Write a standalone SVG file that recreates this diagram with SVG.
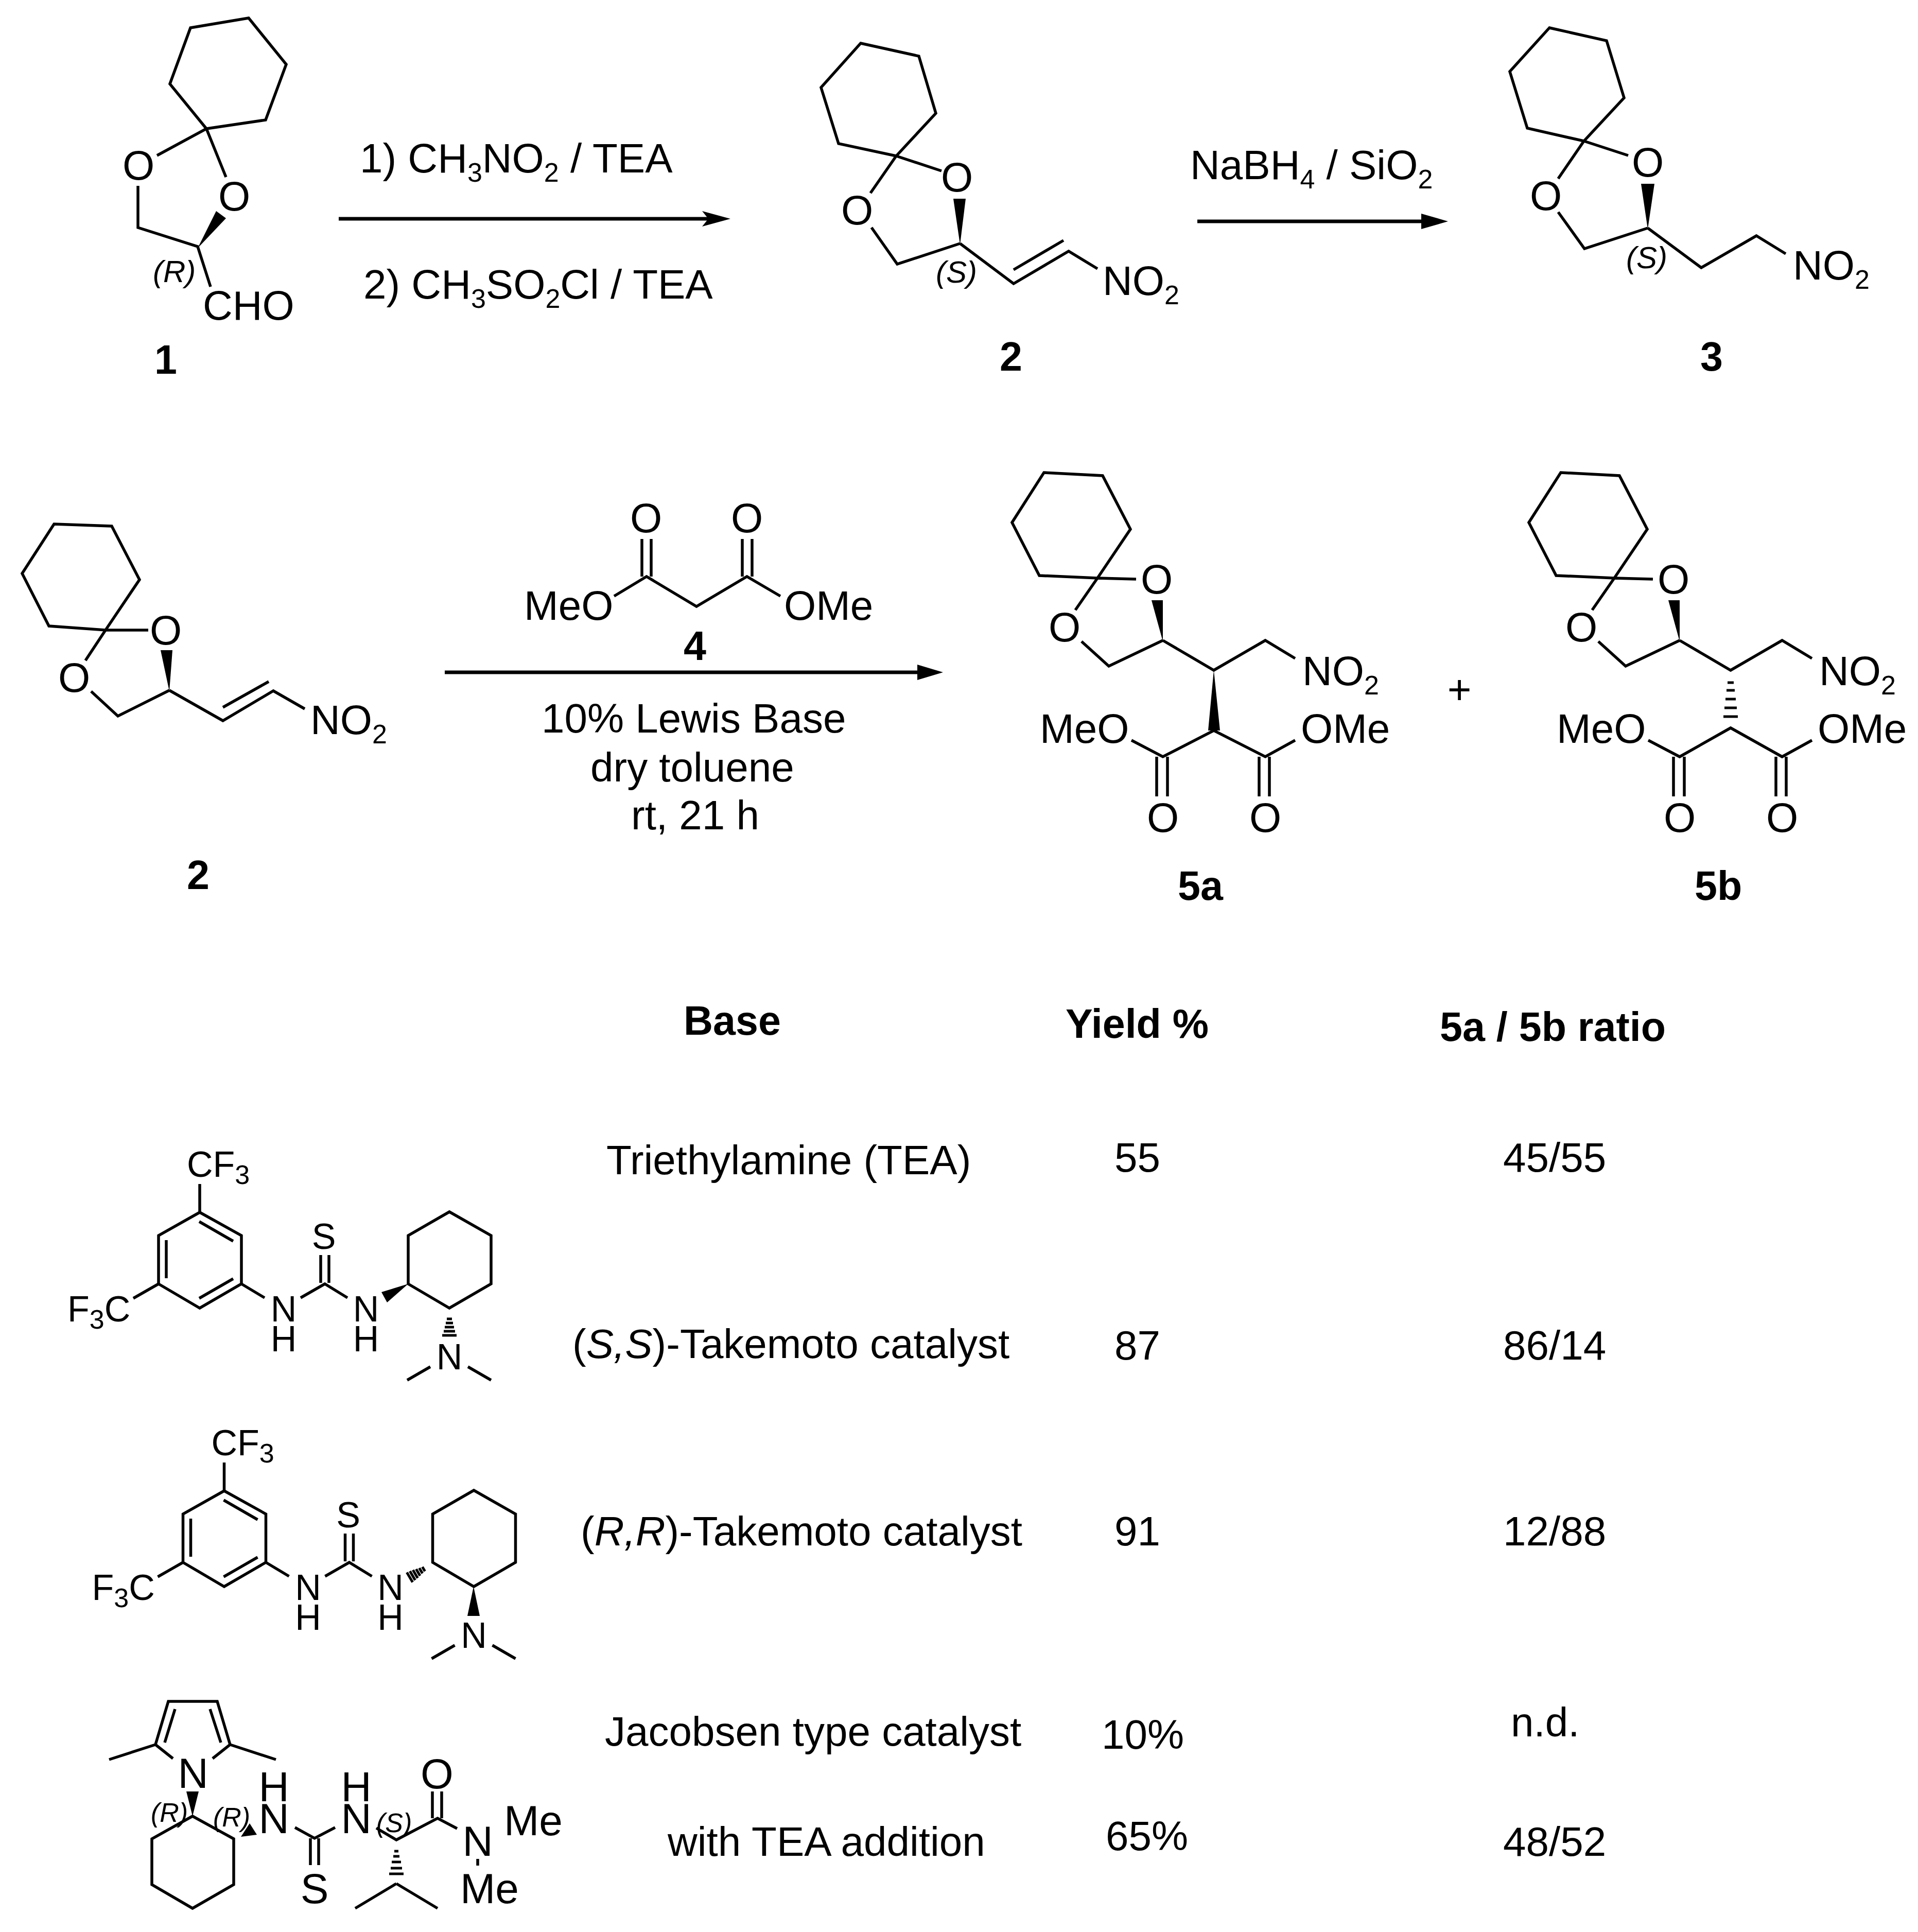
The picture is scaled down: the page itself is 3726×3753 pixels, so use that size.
<svg xmlns="http://www.w3.org/2000/svg" width="3726" height="3753" viewBox="0 0 3726 3753">
<style>
text{font-family:"Liberation Sans",Arial,sans-serif;fill:#000}
.t{font-size:80px}
.a{font-size:70px}
.u{font-size:52px}
.l{font-size:79px;font-weight:bold}
.st{font-size:60px;font-style:italic}
.ss{font-size:52px;font-style:italic}
.j{font-size:82px}
.m{text-anchor:middle}
.b{fill:none;stroke:#000;stroke-width:5.5;stroke-linejoin:miter;stroke-linecap:butt}
.h{fill:none;stroke:#000;stroke-width:5}
.ar{fill:none;stroke:#000;stroke-width:7}
.f{fill:#000;stroke:none}
</style>
<rect width="3726" height="3753" fill="#fff"/>

<g id="connectors">
<line class="ar" x1="658" y1="425" x2="1376" y2="425"/><polygon class="f" points="1419,425 1364,440 1376,425 1364,410"/>
<line class="ar" x1="2326" y1="430" x2="2775" y2="430"/><polygon class="f" points="2813,430 2761,445 2761,415"/>
<line class="ar" x1="864" y1="1306" x2="1795" y2="1306"/><polygon class="f" points="1832,1306 1782,1321 1782,1291"/>
</g>

<g id="conditions-1" transform="translate(-8 -1)">
<text class="t" x="707" y="336">1) CH<tspan class="u" dy="18">3</tspan><tspan dy="-18">NO</tspan><tspan class="u" dy="18">2</tspan><tspan dy="-18"> / TEA</tspan></text>
<text class="t" x="714" y="581">2) CH<tspan class="u" dy="18">3</tspan><tspan dy="-18">SO</tspan><tspan class="u" dy="18">2</tspan><tspan dy="-18">Cl / TEA</tspan></text>
</g>
<g id="conditions-2" transform="translate(-6 -1)">
<text class="t" x="2318" y="349">NaBH<tspan class="u" dy="18">4</tspan><tspan dy="-18"> / SiO</tspan><tspan class="u" dy="18">2</tspan></text>
</g>

<g id="compound-1" transform="translate(-3 -2)">
<polygon class="b" points="486,37 373,56 333,165 404,252 519,235 559,127"/>
<path class="b" d="M404,252L308,304M404,252L442,346M271,363V444L387,481L412,559"/>
<polygon class="f" points="387,484 423,412 442,426"/>
<text class="t m" x="272" y="351">O</text>
<text class="t m" x="458" y="411">O</text>
<text class="t" x="397" y="623">CHO</text>
<text class="st" x="300" y="550">(R)</text>
<text class="l" x="303" y="728">1</text>
</g>

<g id="compound-2" transform="translate(-2 -2)">
<polygon class="b" points="1674,86 1787,111 1820,222 1743,305 1631,281 1597,172"/>
<path class="b" d="M1743,305L1831,334M1743,305L1693,377M1867,475L1745,515L1695,444M1867,475L1971,553L2078,490L2134,524M1971,526L2068,469"/>
<polygon class="f" points="1867,477 1854,388 1878,388"/>
<text class="t m" x="1861" y="374">O</text>
<text class="t m" x="1667" y="438">O</text>
<text class="t" x="2144" y="575">NO<tspan class="u" dy="18">2</tspan></text>
<text class="st" x="1820" y="551">(S)</text>
<text class="l" x="1944" y="722">2</text>
</g>

<g id="compound-3" transform="translate(-7 -2)">
<polygon class="b" points="3017,56 3128,81 3162,192 3084,276 2974,251 2940,141"/>
<path class="b" d="M3084,276L3170,304M3084,276L3034,349M3208,445L3085,485L3034,414M3208,445L3312,522L3419,460L3476,495"/>
<polygon class="f" points="3208,447 3195,359 3221,359"/>
<text class="t m" x="3208" y="345">O</text>
<text class="t m" x="3010" y="410">O</text>
<text class="t" x="3490" y="545">NO<tspan class="u" dy="18">2</tspan></text>
<text class="st" x="3166" y="523">(S)</text>
<text class="l" x="3310" y="722">3</text>
</g>

<g id="compound-2b" transform="translate(-2 -2)">
<polygon class="b" points="107,1020 219,1024 273,1128 207,1226 97,1218 45,1116"/>
<path class="b" d="M207,1226L290,1226M207,1226L168,1285M331,1343L231,1393L179,1345M331,1343L435,1402L533,1344L594,1379M435,1376L524,1326"/>
<polygon class="f" points="331,1345 314,1265 337,1265"/>
<text class="t m" x="324" y="1254">O</text>
<text class="t m" x="146" y="1346">O</text>
<text class="t" x="605" y="1428">NO<tspan class="u" dy="18">2</tspan></text>
<text class="l" x="365" y="1729">2</text>
</g>

<g id="compound-4" transform="translate(-7 -2)">
<path class="b" d="M1200,1160L1263,1122L1360,1180L1458,1122L1523,1160M1254,1122V1049M1272,1122V1049M1449,1122V1049M1468,1122V1049"/>
<text class="t m" x="1262" y="1036">O</text>
<text class="t m" x="1458" y="1036">O</text>
<text class="t" x="1025" y="1206">MeO</text>
<text class="t" x="1530" y="1206">OMe</text>
<text class="l" x="1335" y="1284">4</text>
</g>

<g id="conditions-3" transform="translate(-8 -2)">
<text class="t" x="1060" y="1425">10% Lewis Base</text>
<text class="t" x="1155" y="1520">dry toluene</text>
<text class="t" x="1234" y="1613">rt, 21 h</text>
</g>

<g id="compound-5a" transform="translate(-4 -2)">
<polygon class="b" points="2032,920 2146,926 2200,1030 2136,1125 2023,1120 1970,1017"/>
<path class="b" d="M2136,1125L2211,1127M2136,1125L2093,1187M2263,1246L2158,1296L2105,1248M2263,1246L2362,1304L2462,1246L2520,1281M2202,1440L2263,1472L2362,1421L2462,1472L2520,1440M2251,1472V1549M2272,1472V1549M2450,1472V1549M2470,1472V1549"/>
<polygon class="f" points="2263,1248 2241,1168 2263,1168"/>
<polygon class="f" points="2362,1304 2351,1421 2374,1421"/>
<text class="t m" x="2251" y="1155">O</text>
<text class="t m" x="2072" y="1248">O</text>
<text class="t" x="2534" y="1333">NO<tspan class="u" dy="18">2</tspan></text>
<text class="t" x="2024" y="1445">MeO</text>
<text class="t" x="2531" y="1445">OMe</text>
<text class="t m" x="2263" y="1618">O</text>
<text class="t m" x="2462" y="1618">O</text>
<text class="l" x="2292" y="1750">5a</text>
</g>

<g id="plus"><text class="t m" x="2835" y="1367">+</text></g>

<g id="compound-5b" transform="translate(-7 -2)">
<polygon class="b" points="3039,920 3153,926 3207,1030 3143,1125 3030,1120 2977,1017"/>
<path class="b" d="M3143,1125L3218,1127M3143,1125L3100,1187M3270,1246L3165,1296L3112,1248M3270,1246L3369,1304L3469,1246L3527,1281M3209,1440L3270,1472L3369,1416L3469,1472L3527,1440M3258,1472V1549M3279,1472V1549M3457,1472V1549M3477,1472V1549"/>
<polygon class="f" points="3270,1248 3248,1168 3270,1168"/>
<path class="h" d="M3363,1328H3375M3361,1343H3377M3359,1360H3379M3357,1377H3381M3355,1394H3383"/>
<text class="t m" x="3258" y="1155">O</text>
<text class="t m" x="3079" y="1248">O</text>
<text class="t" x="3541" y="1333">NO<tspan class="u" dy="18">2</tspan></text>
<text class="t" x="3031" y="1445">MeO</text>
<text class="t" x="3538" y="1445">OMe</text>
<text class="t m" x="3270" y="1618">O</text>
<text class="t m" x="3469" y="1618">O</text>
<text class="l" x="3299" y="1750">5b</text>
</g>

<g id="table" transform="translate(0 -3)">
<text class="l" x="1328" y="2013">Base</text>
<text class="l" x="2070" y="2019">Yield %</text>
<text class="l" x="2797" y="2025">5a / 5b ratio</text>
<text class="t" x="1178" y="2284">Triethylamine (TEA)</text>
<text class="t" x="2165" y="2279">55</text>
<text class="t" x="2920" y="2279">45/55</text>
<text class="t" x="1112" y="2641">(<tspan font-style="italic">S,S</tspan>)-Takemoto catalyst</text>
<text class="t" x="2165" y="2644">87</text>
<text class="t" x="2920" y="2644">86/14</text>
<text class="t" x="1128" y="3005">(<tspan font-style="italic">R,R</tspan>)-Takemoto catalyst</text>
<text class="t" x="2165" y="3005">91</text>
<text class="t" x="2920" y="3005">12/88</text>
<text class="t" x="1175" y="3394">Jacobsen type catalyst</text>
<text class="t" x="2140" y="3400">10%</text>
<text class="t" x="2935" y="3376">n.d.</text>
<text class="t" x="1297" y="3608">with TEA addition</text>
<text class="t" x="2148" y="3597">65%</text>
<text class="t" x="2920" y="3608">48/52</text>
</g>

<g id="catalyst-ss" transform="translate(-4 -1)">
<polygon class="b" points="392,2356 473,2401 473,2495 392,2542 312,2495 312,2401"/>
<path class="b" d="M391,2374L457,2412M457,2485L391,2523M327,2410V2484M392,2356V2301M312,2495L263,2523M473,2495L518,2522M588,2522L635,2495L679,2522M627,2493V2439M643,2493V2439"/>
<polygon class="b" points="797,2495 797,2401 877,2355 958,2401 958,2495 877,2542"/>
<polygon class="f" points="797,2495 745,2511 756,2531"/>
<path class="h" stroke-width="4" d="M872,2563H882M870,2571H884M868,2579H886M866,2587H888M863,2595H891"/>
<path class="b" d="M840,2656L795,2682M913,2656L958,2682"/>
<text class="a" x="367" y="2287">CF<tspan class="u" font-size="46" dy="14">3</tspan></text>
<text class="a" x="135" y="2568">F<tspan class="u" dy="14">3</tspan><tspan dy="-14">C</tspan></text>
<text class="a m" x="555" y="2568">N</text><text class="a m" x="555" y="2626">H</text>
<text class="a m" x="715" y="2568">N</text><text class="a m" x="715" y="2626">H</text>
<text class="a m" x="633" y="2427">S</text>
<text class="a m" x="877" y="2661">N</text>
</g>

<g id="catalyst-rr" transform="translate(-4 -1)">
<g transform="translate(47.5 541)">
<polygon class="b" points="392,2356 473,2401 473,2495 392,2542 312,2495 312,2401"/>
<path class="b" d="M391,2374L457,2412M457,2485L391,2523M327,2410V2484M392,2356V2301M312,2495L263,2523M473,2495L518,2522M588,2522L635,2495L679,2522M627,2493V2439M643,2493V2439"/>
<polygon class="b" points="797,2495 797,2401 877,2355 958,2401 958,2495 877,2542"/>
<path class="b" d="M840,2656L795,2682M913,2656L958,2682"/>
<text class="a" x="367" y="2287">CF<tspan class="u" font-size="46" dy="14">3</tspan></text>
<text class="a" x="135" y="2568">F<tspan class="u" dy="14">3</tspan><tspan dy="-14">C</tspan></text>
<text class="a m" x="555" y="2568">N</text><text class="a m" x="555" y="2626">H</text>
<text class="a m" x="715" y="2568">N</text><text class="a m" x="715" y="2626">H</text>
<text class="a m" x="633" y="2427">S</text>
<text class="a m" x="877" y="2661">N</text>
</g>
<polygon class="f" points="924,3083 912,3140 936,3140"/>
<path class="h" stroke-width="4" d="M824.5,3044.7L829.5,3053.3M818.5,3047L824.7,3057.4M812.4,3048.9L820,3061.9M806.2,3050.8L815.4,3066.4M800.3,3053.1L810.5,3070.5M794.4,3055.4L805.6,3074.6"/>
</g>

<g id="catalyst-jacobsen" transform="translate(-2 0)">
<path class="b" d="M338,3416L304,3389L329,3305H424L449,3389L415,3416M304,3389L214,3418M449,3389L538,3418M342,3320L322,3385M410,3320L431,3385"/>
<polygon class="b" points="376,3528 456,3572 456,3661 376,3707 297,3661 297,3572"/>
<polygon class="f" points="376,3528 364,3480 388,3480"/>
<polygon class="f" points="487,3542 470,3568 501,3564"/>
<path class="b" d="M575,3550L613,3571L653,3550M605,3571V3623M621,3571V3623M733,3551L772,3574L852,3532L890,3552M842,3532V3480M860,3532V3480M772,3659L692,3707M772,3659L852,3707M930,3611V3624"/>
<path class="h" d="M768,3596H776M766,3606H778M763,3617H781M761,3629H783M758,3640H786"/>
<text class="j m" x="377" y="3473">N</text>
<text class="j m" x="534" y="3499">H</text><text class="j m" x="534" y="3561">N</text>
<text class="j m" x="694" y="3499">H</text><text class="j m" x="694" y="3561">N</text>
<text class="j m" x="851" y="3474">O</text>
<text class="j m" x="930" y="3605">N</text>
<text class="j m" x="613" y="3697">S</text>
<text class="j" x="981" y="3565">Me</text>
<text class="j" x="896" y="3697">Me</text>
<text class="ss" x="295" y="3539">(R)</text>
<text class="ss" x="416" y="3548">(R)</text>
<text class="ss" x="733" y="3559">(S)</text>
</g>
</svg>
